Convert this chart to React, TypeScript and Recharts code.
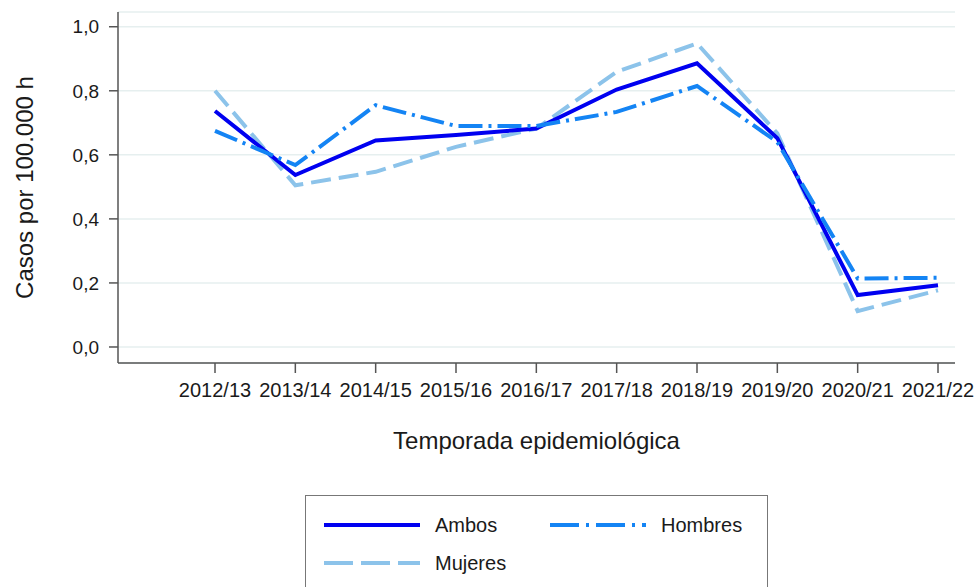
import React from "react";
import { LineChart, Line, XAxis, YAxis, CartesianGrid } from "recharts";

const seasons = [
  "2012/13", "2013/14", "2014/15", "2015/16", "2016/17",
  "2017/18", "2018/19", "2019/20", "2020/21", "2021/22",
];
const ambos = [0.737, 0.537, 0.645, 0.662, 0.682, 0.804, 0.886, 0.652, 0.162, 0.193];
const hombres = [0.675, 0.568, 0.755, 0.69, 0.69, 0.734, 0.815, 0.64, 0.214, 0.216];
const mujeres = [0.8, 0.505, 0.547, 0.625, 0.682, 0.859, 0.948, 0.667, 0.112, 0.177];
const yTicks = [0, 0.2, 0.4, 0.6, 0.8, 1.0];

const FONT = "'Liberation Sans', Arial, sans-serif";
const C_AMBOS = "#0000f0";
const C_HOMBRES = "#1484f4";
const C_MUJERES = "#8cc3ea";

const data = seasons.map((s, i) => ({
  season: s,
  ambos: ambos[i],
  hombres: hombres[i],
  mujeres: mujeres[i],
}));

const fmt = (v: number) => v.toFixed(1).replace(".", ",");

function LegendItem({ color, dash, label }: { color: string; dash?: string; label: string }) {
  return (
    <div style={{ display: "flex", alignItems: "center", height: 38 }}>
      <svg width={98} height={10} style={{ marginRight: 14 }}>
        <line x1={1} y1={5} x2={97} y2={5} stroke={color} strokeWidth={4} strokeDasharray={dash} />
      </svg>
      <span style={{ fontFamily: FONT, fontSize: 20, color: "#1a1a1a" }}>{label}</span>
    </div>
  );
}

export default function App() {
  return (
    <div
      style={{
        position: "absolute",
        left: 0,
        top: 0,
        width: 979,
        height: 587,
        overflow: "hidden",
        background: "#fff",
      }}
    >
      <LineChart
        width={979}
        height={587}
        data={data}
        margin={{ top: 12, right: 24, bottom: 0, left: 0 }}
      >
        <CartesianGrid vertical={false} stroke="#e6efef" strokeWidth={1.5} />
        <XAxis
          dataKey="season"
          height={224}
          padding={{ left: 97, right: 17 }}
          tickSize={10}
          tickMargin={10}
          interval={0}
          stroke="#555"
          strokeWidth={1.5}
          tick={{ fontFamily: FONT, fontSize: 20, fill: "#1a1a1a" }}
          label={{
            content: ({ viewBox }: any) => (
              <text
                x={viewBox.x + viewBox.width / 2}
                y={viewBox.y + 86}
                textAnchor="middle"
                fontFamily={FONT}
                fontSize={24}
                fill="#1a1a1a"
              >
                Temporada epidemiológica
              </text>
            ),
          }}
        />
        <YAxis
          type="number"
          width={118}
          domain={[-0.05, 1.046]}
          ticks={yTicks}
          allowDataOverflow
          tickFormatter={fmt}
          tickSize={9}
          tickMargin={10}
          stroke="#555"
          strokeWidth={1.5}
          tick={{ fontFamily: FONT, fontSize: 19, fill: "#1a1a1a" }}
          label={{
            content: ({ viewBox }: any) => {
              const cx = viewBox.x + 24;
              const cy = viewBox.y + viewBox.height / 2;
              return (
                <text
                  x={cx}
                  y={cy}
                  transform={`rotate(-90 ${cx} ${cy})`}
                  textAnchor="middle"
                  dominantBaseline="central"
                  fontFamily={FONT}
                  fontSize={24}
                  fill="#1a1a1a"
                >
                  Casos por 100.000 h
                </text>
              );
            },
          }}
        />
        <Line
          dataKey="mujeres"
          type="linear"
          stroke={C_MUJERES}
          strokeWidth={4}
          strokeDasharray="20 8"
          dot={false}
          isAnimationActive={false}
        />
        <Line
          dataKey="ambos"
          type="linear"
          stroke={C_AMBOS}
          strokeWidth={4}
          dot={false}
          isAnimationActive={false}
        />
        <Line
          dataKey="hombres"
          type="linear"
          stroke={C_HOMBRES}
          strokeWidth={4}
          strokeDasharray="24 6 3 6"
          dot={false}
          isAnimationActive={false}
        />
      </LineChart>
      <div
        style={{
          position: "absolute",
          left: 305,
          top: 495,
          width: 463,
          height: 110,
          border: "1.5px solid #777",
          boxSizing: "border-box",
          padding: "10px 0 0 17px",
        }}
      >
        <div style={{ display: "flex" }}>
          <div style={{ width: 226 }}>
            <LegendItem color={C_AMBOS} label="Ambos" />
          </div>
          <LegendItem color={C_HOMBRES} dash="29 7 3 7" label="Hombres" />
        </div>
        <LegendItem color={C_MUJERES} dash="29 8" label="Mujeres" />
      </div>
    </div>
  );
}
